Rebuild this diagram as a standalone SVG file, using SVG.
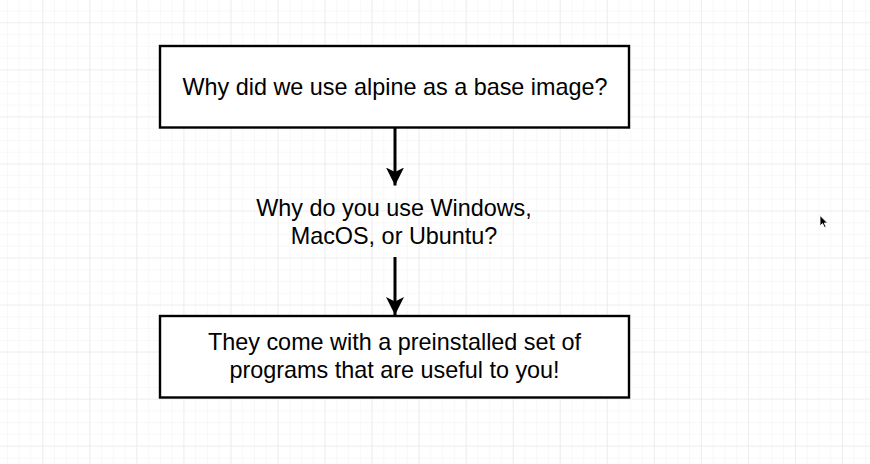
<svg xmlns="http://www.w3.org/2000/svg" width="870" height="464" viewBox="0 0 870 464">
<style>
.box{fill:#fff;stroke:#000;stroke-width:2.4}
.lbl{font-family:"Liberation Sans",Arial,Helvetica,sans-serif;font-size:23.4px;fill:#000;text-anchor:middle}
.conn{stroke:#000;stroke-width:3;fill:none}
</style>
<defs>
<pattern id="minor" width="11.76" height="11.76" patternUnits="userSpaceOnUse" patternTransform="translate(7.0 -1.2)">
<path d="M0 0H11.76M0 0V11.76" stroke="#f2f2f2" stroke-width="1" fill="none"/>
</pattern>
<pattern id="major" width="47.04" height="47.04" patternUnits="userSpaceOnUse" patternTransform="translate(42.3 22.3)">
<path d="M0 0H47.04M0 0V47.04" stroke="#e6e6e6" stroke-width="1.2" fill="none"/>
</pattern>
<marker id="arrow" viewBox="0 0 18 18" refX="18" refY="9" markerWidth="18" markerHeight="18" markerUnits="userSpaceOnUse" orient="auto">
<path d="M0 0L18 9L0 18L4.5 9Z" fill="#000"/>
</marker>
</defs>
<rect width="870" height="464" fill="#fff"/>
<rect width="870" height="464" fill="url(#minor)"/>
<rect width="870" height="464" fill="url(#major)"/>
<g id="connectors">
<line class="conn" x1="395" y1="128" x2="395" y2="185.5" marker-end="url(#arrow)"/>
<line class="conn" x1="395" y1="257" x2="395" y2="315" marker-end="url(#arrow)"/>
</g>
<g id="node-alpine">
<rect class="box" x="160" y="46" width="469" height="81.5"/>
<text class="lbl" x="395" y="95">Why did we use alpine as a base image?</text>
</g>
<g id="node-why-os">
<text class="lbl" x="394" y="216">Why do you use Windows,</text>
<text class="lbl" x="394" y="244">MacOS, or Ubuntu?</text>
</g>
<g id="node-preinstalled">
<rect class="box" x="160" y="316" width="469" height="81.5"/>
<text class="lbl" x="394.5" y="350">They come with a preinstalled set of</text>
<text class="lbl" x="394.5" y="378">programs that are useful to you!</text>
</g>
<path d="M820 215.5L820 226L822.5 223.5L824.5 227.5L826 226.8L824.2 223L827.5 223Z" fill="#000" stroke="#fff" stroke-width="0.8"/>
</svg>
